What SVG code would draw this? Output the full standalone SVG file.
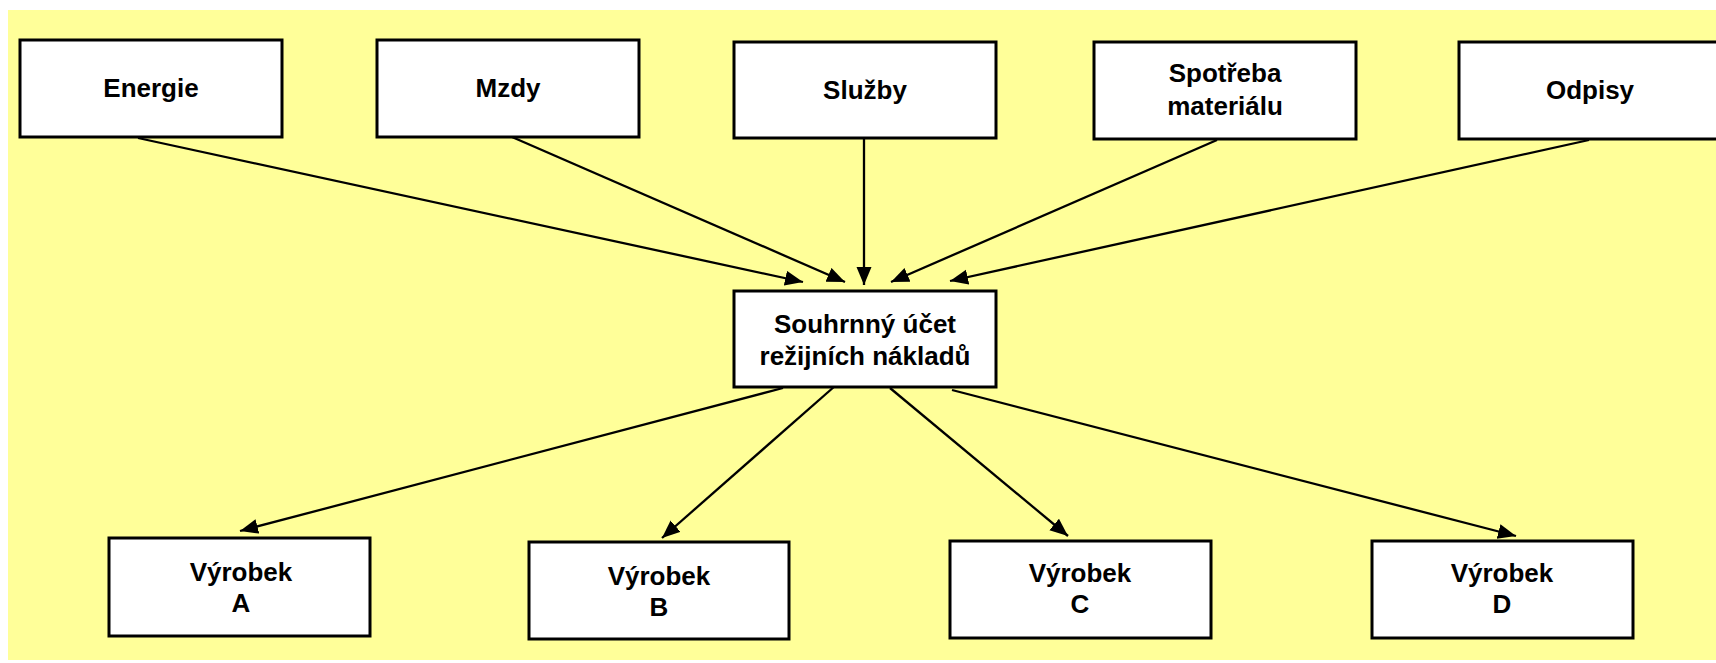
<svg xmlns="http://www.w3.org/2000/svg" width="1716" height="663" viewBox="0 0 1716 663">
<defs>
<style>
.box{fill:#fff;stroke:#000;stroke-width:3}
.t{font-family:"Liberation Sans",Arial,sans-serif;font-weight:bold;font-size:26px;text-anchor:middle;fill:#000}
.c{stroke:#000;stroke-width:2.3;fill:none;marker-end:url(#ah)}
</style>
<marker id="ah" markerUnits="userSpaceOnUse" markerWidth="20" markerHeight="16" refX="18" refY="7.5" orient="auto">
<path d="M0,0 L18,7.5 L0,15 Z" fill="#000"/>
</marker>
</defs>
<rect x="0" y="0" width="1716" height="663" fill="#fff"/>
<rect x="8" y="10" width="1708" height="650" fill="#FFFF99"/>
<g id="connectors">
<line class="c" x1="138" y1="138" x2="803" y2="282"/>
<line class="c" x1="512" y1="137" x2="845" y2="282"/>
<line class="c" x1="864" y1="139" x2="864" y2="285"/>
<line class="c" x1="1217" y1="140" x2="891" y2="282"/>
<line class="c" x1="1589" y1="140" x2="950" y2="281"/>
<line class="c" x1="783" y1="388" x2="240" y2="531"/>
<line class="c" x1="835" y1="386" x2="662" y2="538"/>
<line class="c" x1="890" y1="388" x2="1068" y2="536"/>
<line class="c" x1="952" y1="390" x2="1516" y2="536"/>
</g>
<g id="energie"><rect class="box" x="20" y="40" width="262" height="97"/><text class="t" x="151" y="97">Energie</text></g>
<g id="mzdy"><rect class="box" x="377" y="40" width="262" height="97"/><text class="t" x="508" y="97">Mzdy</text></g>
<g id="sluzby"><rect class="box" x="734" y="42" width="262" height="96"/><text class="t" x="865" y="99">Služby</text></g>
<g id="spotreba"><rect class="box" x="1094" y="42" width="262" height="97"/><text class="t" x="1225" y="82">Spotřeba</text><text class="t" x="1225" y="115">materiálu</text></g>
<g id="odpisy"><rect class="box" x="1459" y="42" width="262" height="97"/><text class="t" x="1590" y="99">Odpisy</text></g>
<g id="souhrnny"><rect class="box" x="734" y="291" width="262" height="96"/><text class="t" x="865" y="333">Souhrnný účet</text><text class="t" x="865" y="365">režijních nákladů</text></g>
<g id="vyrobekA"><rect class="box" x="109" y="538" width="261" height="98"/><text class="t" x="241" y="581">Výrobek</text><text class="t" x="241" y="612">A</text></g>
<g id="vyrobekB"><rect class="box" x="529" y="542" width="260" height="97"/><text class="t" x="659" y="585">Výrobek</text><text class="t" x="659" y="616">B</text></g>
<g id="vyrobekC"><rect class="box" x="950" y="541" width="261" height="97"/><text class="t" x="1080" y="582">Výrobek</text><text class="t" x="1080" y="613">C</text></g>
<g id="vyrobekD"><rect class="box" x="1372" y="541" width="261" height="97"/><text class="t" x="1502" y="582">Výrobek</text><text class="t" x="1502" y="613">D</text></g>
</svg>
